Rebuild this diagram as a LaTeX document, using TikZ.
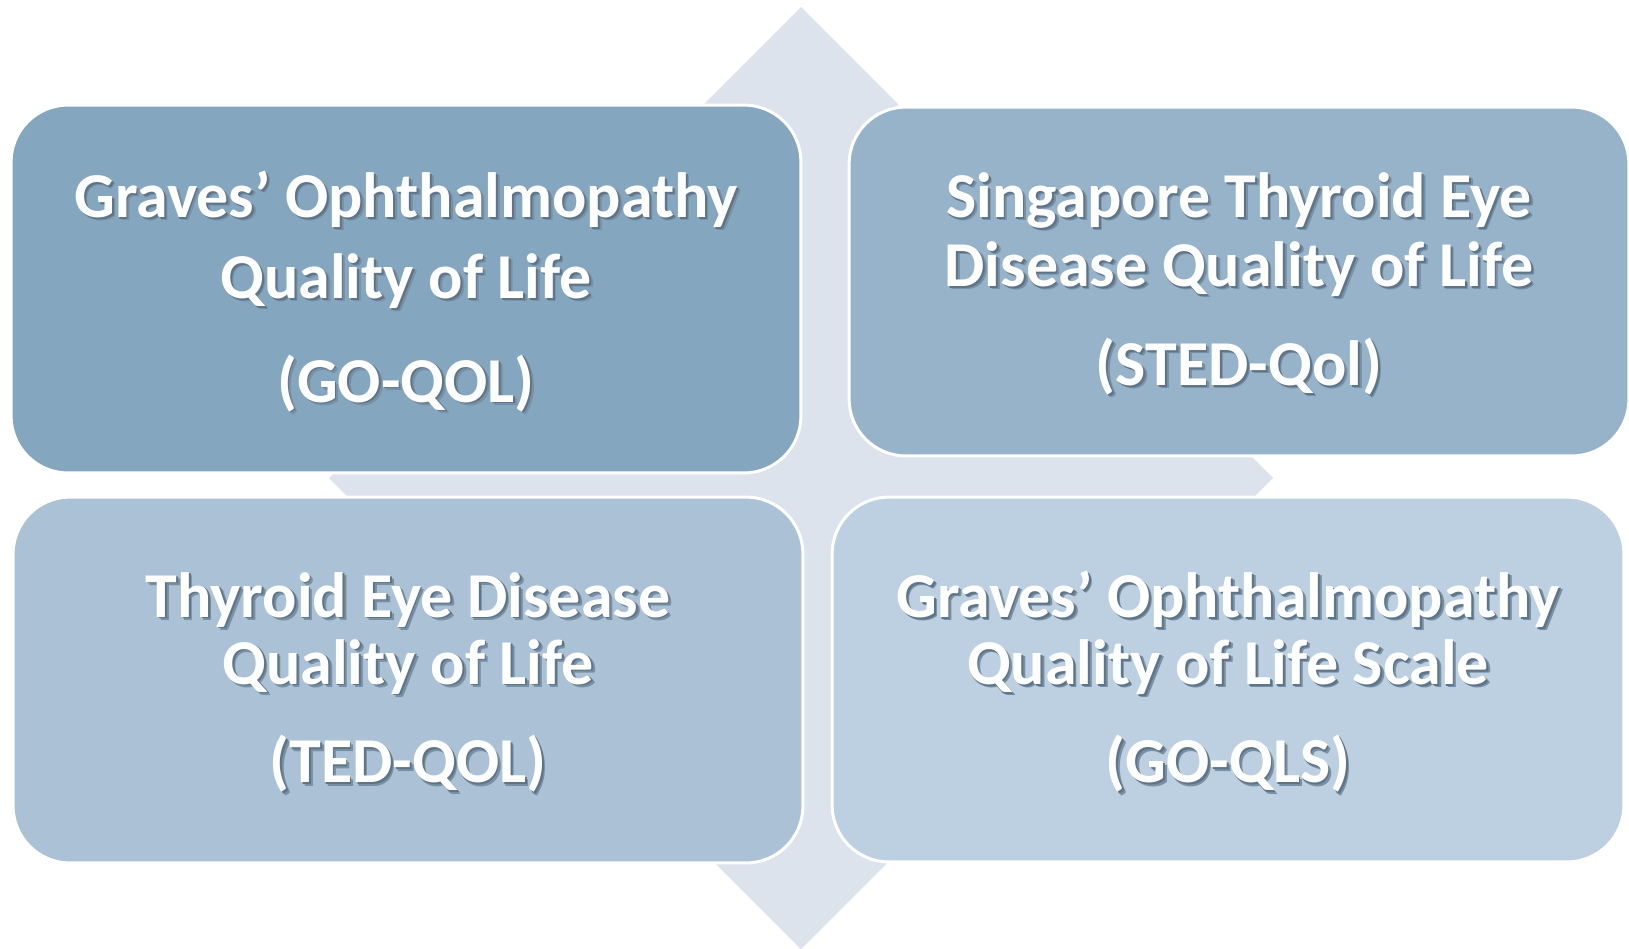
\documentclass[tikz,border=0pt]{standalone}
\usepackage{fontspec}
\setmainfont{Carlito}
\definecolor{gridbg}{HTML}{DCE3EC}
\definecolor{tileA}{HTML}{84A6BF}
\definecolor{tileB}{HTML}{97B3CA}
\definecolor{tileC}{HTML}{ABC1D5}
\definecolor{tileD}{HTML}{BDD0E1}
\definecolor{txtshadow}{HTML}{5E7488}
\definecolor{txtshadowsoft}{HTML}{7890A5}
% white text with a soft shadow to the lower right
\newcommand{\shtxt}[1]{%
    \rlap{\kern2pt\raisebox{-2pt}{\color{txtshadowsoft}#1}}%
    \rlap{\kern1pt\raisebox{-1pt}{\color{txtshadow}#1}}#1}
\tikzset{
    tile/.style={draw=white, line width=1.7pt, rounded corners=1.14cm, inner sep=0pt}, % the four rounded boxes
    leading/.style={text=white, align=center, yshift=-0.08cm, font=\bfseries\fontsize{36.4pt}{#1}\selectfont}, % white bold text, line distance as value
    quadarrow/.style={fill=gridbg, draw=none}, % the cross of arrows behind the boxes
}
\begin{document}
\begin{tikzpicture}[x=0.02cm, y=-0.02cm]
    \useasboundingbox (0,0) rectangle (1629,948);
    \fill[quadarrow] (801,7) -- (898,104) -- (898,381) -- (1176,381) -- (1273,478) -- (1176,575)
        -- (898,575) -- (898,852) -- (801,949) -- (704,852) -- (704,575) -- (426,575)
        -- (329,478) -- (426,381) -- (704,381) -- (704,104) -- cycle;
    \node[tile, fill=tileA, minimum width=15.80cm, minimum height=7.36cm,
        label={[leading=46.1pt]center:{\shtxt{Graves’ Ophthalmopathy}\\\shtxt{Quality of Life}\\[13pt]\shtxt{(GO-QOL)}}}] (goqol) at (406,289) {};
    \node[tile, fill=tileB, minimum width=15.60cm, minimum height=6.98cm,
        label={[leading=39.3pt]center:{\shtxt{Singapore Thyroid Eye}\\\shtxt{Disease Quality of Life}\\[17pt]\shtxt{(STED-Qol)}}}] (stedqol) at (1239,281.5) {};
    \node[tile, fill=tileC, minimum width=15.80cm, minimum height=7.32cm,
        label={[leading=38.1pt]center:{\shtxt{Thyroid Eye Disease}\\\shtxt{Quality of Life}\\[18pt]\shtxt{(TED-QOL)}}}] (tedqol) at (408,680) {};
    \node[tile, fill=tileD, minimum width=15.84cm, minimum height=7.30cm,
        label={[leading=38.1pt]center:{\shtxt{Graves’ Ophthalmopathy}\\\shtxt{Quality of Life Scale}\\[18pt]\shtxt{(GO-QLS)}}}] (goqls) at (1228,679.5) {};
\end{tikzpicture}
\end{document}
